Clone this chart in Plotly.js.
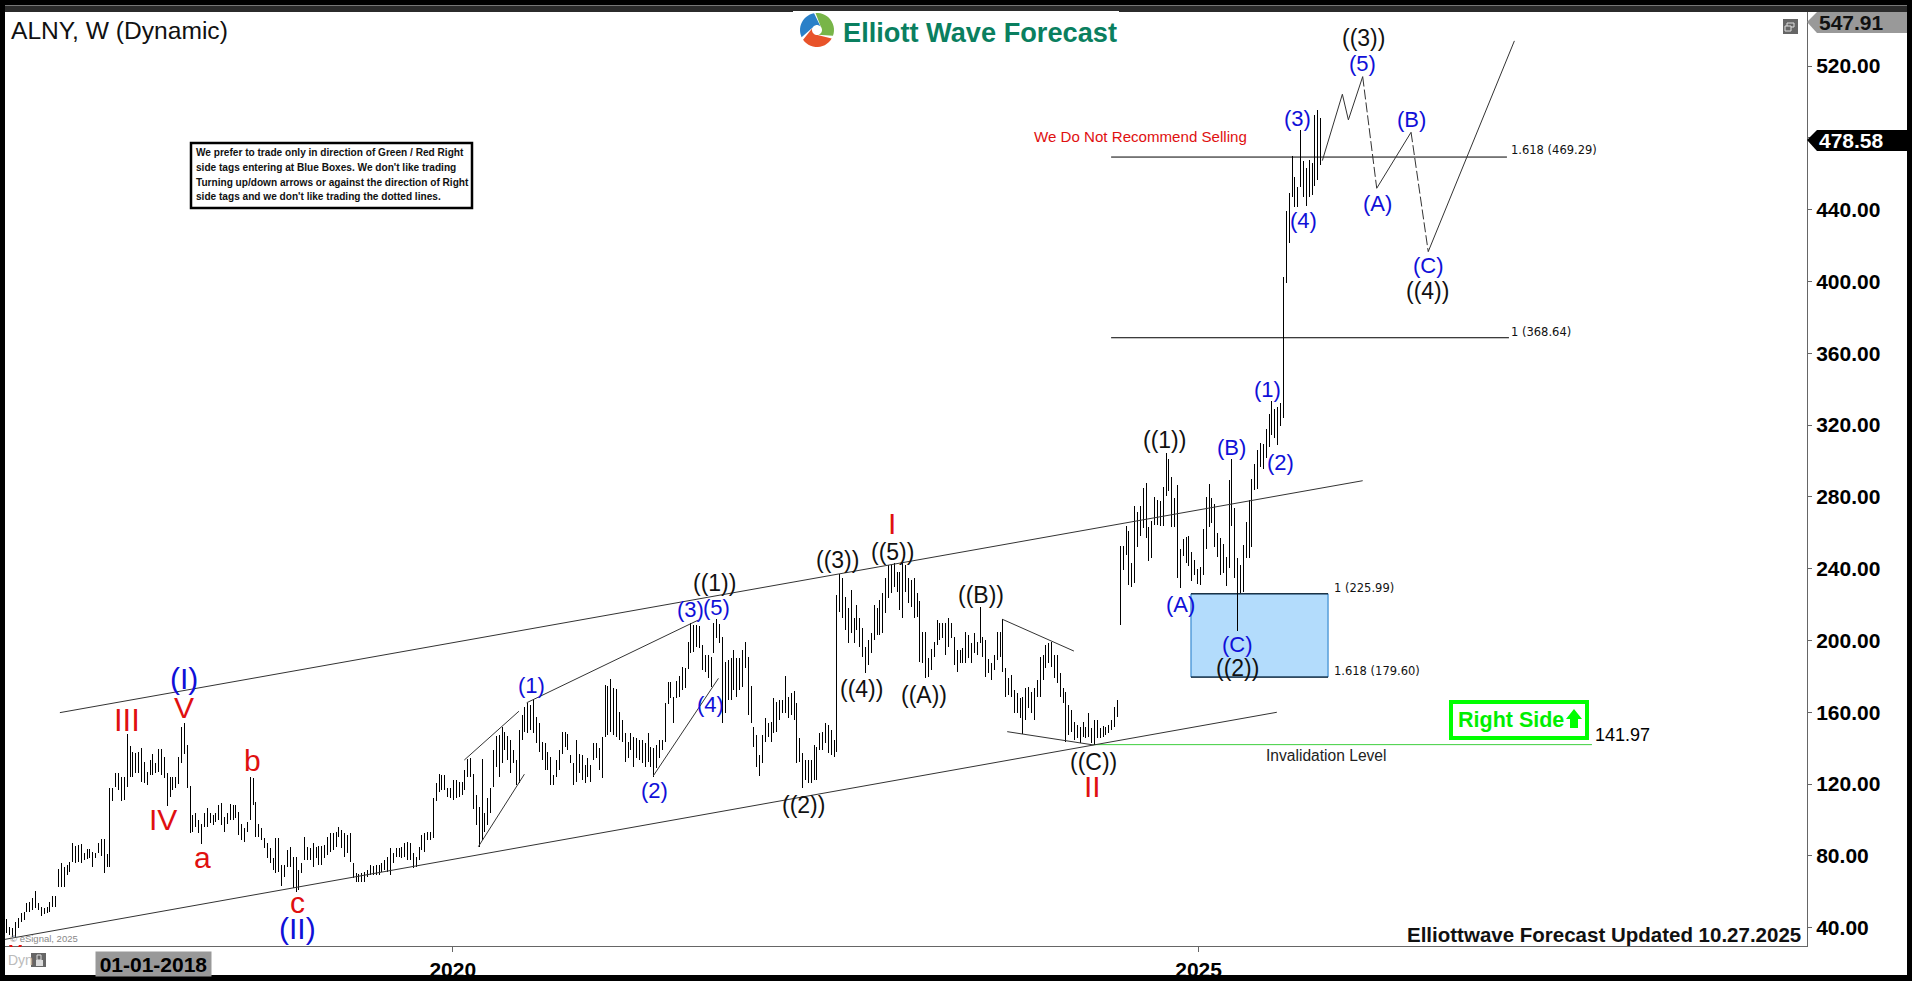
<!DOCTYPE html>
<html><head><meta charset="utf-8">
<script src="https://cdn.plot.ly/plotly-3.0.1.min.js"></script>
<style>html,body{margin:0;padding:0;background:#000;overflow:hidden}#chart{width:1912px;height:981px}
.scatterlayer .trace:first-child .js-line{shape-rendering:crispEdges}</style>
</head><body><div id="chart"></div>
<script>
// Weekly high / low of ALNY, first bar = week of 2017-01-02
const barHigh = [
45,40.6,39.7,43.4,45.3,48.4,49,53.6,54.5,56.4,60.5,54,51.8,50.8,51.8,54.5,57.7,57.7,72.6,76,74,75,76.8,87,85.5,86,86.7,81.5,83.7,83.7,82.4,81.8,87,89.3,89.3,81.1,118,118,126,126,124,124,148,141,138,137.5,138,140,132.5,127,133.5,136.8,131.6,139.4,
139.4,135.3,126.4,124,124,124,135.3,152,153.9,141.8,119,102.8,103.7,100,97.8,103.7,106.5,103.7,102.8,103.7,108.4,109.3,101.9,103.7,109,108.4,108.4,104.7,97.8,95.4,99,124,123.3,110.2,97.8,95.4,89.8,87,84.3,78.7,89.8,89.8,75,75,83.3,85.2,79.6,79.6,72,76,90.4,85.2,84.3,87,85.2,85.6,85.6,86,90.8,92.6,92.6,93.5,96,94.5,93,91.7,92.6,75.9,70.3,70,70.3,71.3,72.2,75,74.4,75,75,75.9,77.8,79.6,84.3,81.5,84.3,84.3,85.2,87,88,87,81.5,79.6,85.2,91.7,92.6,93.5,93.5,112,120.5,125.7,125,125,118,117.7,122.3,122.3,121.4,121.4,
128,133.8,134.4,125.6,114,107.4,134,103.7,112,117.6,139,146.8,147.3,152,149,146.8,144.5,139,133.4,150,158.5,163,165,164,167.2,157.5,153.8,143.6,143,138,135,125,133.4,139,149,149,148,136,131.5,144.5,137,136,130.6,134.3,130.6,142.7,142.7,139.9,146.4,175.2,174.6,178.3,173.3,172.8,160.3,155.7,148.3,143.6,148.3,146.4,145.5,144.5,144.5,142.7,148.3,140.8,139.9,141.8,144.5,144.5,165,177,177,168.7,177.6,180.2,185,184.4,199.3,209.5,208.6,208.6,208,197.5,191.9,191.9,191,209.5,211.8,209.2,202,188.2,189.1,190,194.7,190,190,194.7,199.3,191,174.6,152,147.3,136.2,147.3,156.6,153.8,154.8,167.8,165.9,166.8,166.8,180.2,168.7,170.6,172,165,145.5,137.1,133.4,133.4,133.4,141.8,140.8,148.3,149.2,153.8,152.9,150.1,144.5,225.3,237,234.6,224.4,218,228.1,212.3,219.8,212.3,206.8,196.5,200.3,204,219.8,217.9,222.5,226.3,234.6,242,242,243,238.3,238.3,243,242,234.6,233.7,234.6,226.3,
222,205,205,190,195,199.4,211.4,210,209.6,210,212.4,210,202,194.7,194.7,195.7,204.9,203,198.4,204,199.4,218.5,202,200.3,189.5,187.3,192,205,205,211.8,184.5,179,180.8,172.5,170.6,167.8,168.7,173.4,174.3,171.5,173.4,178,191,192,197.5,198.4,199.4,192,192,181.7,173.4,171.5,164,161.3,154.8,153,152,154.8,152,159.4,151,155.7,155.7,151,152.4,152,152.9,155.7,162.8,166.9,
252.6,252.6,263.7,261,243,274.9,271.7,274.9,284.7,287.5,263,266.7,279.7,278,277.9,285.7,304.2,301,290.9,279.2,286.6,250.7,256.3,257.8,258.2,249.4,244.8,239.6,240.7,261.9,279.7,287.1,279.2,276,259.7,256.9,254,246.3,289.4,301,273.6,245.7,242,253.2,266.2,278.2,289.7,298.3,306,309.8,309.4,317.8,326.1,333.6,328.7,329.9,332.4,402.6,
439.4,449,469.9,458.4,452.8,484.4,467.3,463,467.7,465.8,492.7,495.5,490.9
];
const barLow = [
37,36,35,35,39.7,43.4,44.3,49,49,49.9,50.8,50,46.6,47.7,48.4,49,51.8,51.8,62.5,62.9,62.9,69.4,71.3,76.8,75.9,76.8,75.9,77.8,78.1,78.7,74,78.7,81.5,80,70.7,74,74,110.8,118.6,116.7,110.8,111.2,118.6,124,124,126,126,121,120.5,119.6,125,125,126,127,
125,123.3,107.8,113,116.7,117.7,120,131.6,137,117.7,93,93.5,96.3,92.6,86.7,96.3,96.3,98.2,97.2,99,100,97.2,93.5,98,100,100,101,91.7,88.9,88,93.5,100,108.4,90.8,90.8,88.9,84.3,78.7,75.9,72.2,70.3,71.3,63.3,68.5,74,74,62,60,61,70.3,77.8,77.8,77.8,74,78.7,75,75,78.7,80.5,82.4,83.3,85.2,90.4,84.3,79.6,81.5,76.8,67.5,65.7,65.7,65.7,65.7,68.5,69.4,69.4,69.4,69.4,71.3,72.2,71.3,69.4,76,79.6,79.6,78.7,79.6,77.8,77.8,73,74,77.8,83.3,82.4,88.9,88.9,89.8,110.3,115.8,116.7,116.7,113,112,111,112,113,114,
116.7,124,124,106,97,85,88.8,93.5,97,103.7,118.6,129.7,124,131.6,139,133.4,126,131.6,119.5,120.4,144.5,149,148.6,150,148.3,142.7,138,133.4,127.8,127.8,119.5,119.5,124,127.8,137,140.8,139,131.6,119.5,121.3,126,122.3,120.4,124,121.3,133.4,134.3,127.8,123.2,146.4,147.3,149.2,147.3,146.4,144.5,143.6,132.5,134.3,139,129.7,134.3,133.4,131.5,129.7,132.5,129.7,124,128.8,134.3,139,143.6,164.6,167.8,153.8,167.8,168.7,172.4,173.3,184,192.8,193.7,196.5,195.6,183.5,182.6,178.9,174.3,192.8,201.2,198.4,154.2,159.4,166.8,166.8,172.4,168.7,172.4,174.3,184.5,158.5,153.8,140.8,129.7,124.5,131.5,143.6,146.4,143.6,148.3,149.2,155.7,159.4,159.4,156.6,158.5,155.7,131.5,132.5,117.6,122.3,120.4,120.4,122.3,122.3,139,139,142.7,137.1,136.2,135.3,138,216,212.3,205.8,198.4,204,198.4,205.8,196.5,191,181.7,186.3,192.8,200.3,203,203,204,215.1,223.5,226.3,230,227.2,217,212.3,227.2,220.7,218.8,212.3,213.3,
188,187.3,179,179.9,183.6,191,197.5,200.3,201.2,192,196.6,201.2,186.4,182.7,187.3,187.3,187.3,190,187.3,192.9,192,198.4,191,179.9,181.7,178,183.6,189,191,182.7,168.7,169.7,168.7,159.4,159.4,156.7,148,155.7,162.2,159.4,155.7,168.7,168.7,178,184.5,187.3,185.5,179,176.2,168.7,165,143.7,147.4,149.2,144.6,145.5,142.7,146.5,145.5,146.5,142.7,141.8,145.5,145.5,146.5,147.4,148.3,150,152,157.6,
208.6,239.2,247.6,230.9,230,231.8,252.2,258.2,262.4,256.9,244.4,245.7,264.3,264.3,263.7,263.7,280.5,283.4,263.4,263.4,234.6,229,247,243.3,241.5,233.3,236.4,231.4,230.9,236.4,250.7,263,265.2,252.2,246.3,236.4,237.7,230.3,240.2,263.7,234.6,205.4,226.2,227.2,245.7,245.7,251.9,283.8,284.5,296.8,295.5,301.4,307.6,314.4,312.6,308.9,319.6,323.7,
399,421.6,446.9,441.7,441.3,452.4,447.2,442,447.2,448.2,453.4,456.5,464.9
];
const yTicks = [40,80,120,160,200,240,280,320,360,400,440,480,520];
const xTickDates = ['2020-01-01','2024-12-29'];
const xTickLabels = ['2020','2025'];
const currentPrice = 478.58, topPrice = 547.91, invalidation = 141.97;
const fibLevels = [{t:'1.618 (469.29)',v:469.29},{t:'1 (368.64)',v:368.64},{t:'1 (225.99)',v:225.99},{t:'1.618 (179.60)',v:179.60}];
const infoLines = ['We prefer to trade only in direction of Green / Red Right',
  'side tags entering at Blue Boxes. We don\'t like trading',
  'Turning up/down arrows or against the direction of Right',
  'side tags and we don\'t like trading the dotted lines.'];

// Analyst's drawn lines: [week, price, week, price, ...]
const channelUpper = [19.0,159.8,474.2,289.0];
const channelLower = [-0.2,33.5,444.2,160.0];
const wedgeLines = [
 [160.3,133.4,179.4,160.6],[165.2,85.1,181.3,125.5],[182.1,165.3,242.1,211.4],[226.3,124.5,249.1,178.9],
 [348.3,211.8,373.3,194.1],[350,149.2,380.1,141.8]];
const forecastSolid = [[460.1,467.3,467.1,504.3,469.2,490,474.2,514.1],[479.1,451.9,491.1,483.1],[497.1,416.6,527.2,534]];
const forecastDashed = [[474.2,514.1,479.1,451.9],[491.1,483.1,497.1,416.6]];

const RED='#e01010', BLUE='#1010d8', BLK='#111';
const waveLabels = [
 ['(I)',62.5,178.6,BLUE,30],['V',62.5,162.6,RED,30],['III',42.6,155.3,RED,31],['IV',54.9,100.4,RED,30],
 ['a',68.8,79.2,RED,30],['b',86.2,132.9,RED,30],['c',102.1,54,RED,30],['(II)',102.1,39.6,BLUE,30],
 ['(1)',183.9,174.7,BLUE,22],['((1))',247.6,231.9,BLK,23],['(3)',239.2,217.4,BLUE,22],['(5)',248.5,218.5,BLUE,22],
 ['(2)',226.6,116.7,BLUE,22],['(4)',246.4,164.5,BLUE,22],['((2))',278.8,108.2,BLK,23],['((3))',290.6,244.8,BLK,23],
 ['((4))',299.2,173,BLK,23],['I',309.6,265.3,RED,30],['((5))',310,249.5,BLK,23],['((A))',321,169.6,BLK,23],
 ['((B))',340.7,225.3,BLK,23],['((C))',380.1,132.5,BLK,23],['II',379.7,118.7,RED,30],['(A)',410.4,220.3,BLUE,22],
 ['(C)',430.4,198,BLUE,22],['((2))',430.4,184.5,BLK,23],['((1))',405.1,311.7,BLK,23],['(B)',428.4,307.4,BLUE,22],
 ['(1)',441,340,BLUE,22],['(2)',445.4,299.3,BLUE,22],['((3))',474.6,535.5,BLK,23],['(5)',474.2,521.5,BLUE,22],
 ['(3)',451.3,490.9,BLUE,22],['(4)',453.6,433.7,BLUE,22],['(A)',479.3,443.2,BLUE,22],['(B)',491.1,490,BLUE,22],
 ['(C)',497.1,408.8,BLUE,22],['((4))',496.9,394.7,BLK,23]];

const FONT='"Liberation Sans", Arial, sans-serif';
const T0=Date.UTC(2017,0,2), WK=7*864e5;
const D=w=>T0+w*WK;
// paper-fraction helpers for the chart frame and furniture (plot area spans 5..1807, 12..946)
const fx=p=>(p-5)/1802, fy=p=>(946-p)/934;

// Bars
const bx=[],by=[];
barHigh.forEach((h,i)=>{bx.push(D(i+0.5),D(i+0.5),null);by.push(h,barLow[i],null);});
const traces=[{type:'scatter',mode:'lines',x:bx,y:by,connectgaps:false,hoverinfo:'skip',showlegend:false,
  line:{color:'#000',width:1}}];
const polyline=(pts,color,dash,width)=>{const x=[],y=[];for(let i=0;i<pts.length;i+=2){x.push(D(pts[i]));y.push(pts[i+1]);}
  return {type:'scatter',mode:'lines',x,y,hoverinfo:'skip',showlegend:false,line:{color,width:width||1,dash:dash||'solid'}};};
[channelUpper,channelLower,...wedgeLines,...forecastSolid].forEach(p=>traces.push(polyline(p,'#333')));
forecastDashed.forEach(p=>traces.push(polyline(p,'#333','10px,3px')));

// Shapes
const shapes=[];
const rectPx=(x0,y0,x1,y1,fill,line,lw)=>shapes.push({type:'rect',xref:'paper',yref:'paper',x0:fx(x0),x1:fx(x1),y0:fy(y0),y1:fy(y1),
  fillcolor:fill||'rgba(0,0,0,0)',line:{width:lw||0,color:line||'rgba(0,0,0,0)'},layer:'above'});
const pathPx=(pts,fill,line,lw)=>shapes.push({type:'path',xref:'paper',yref:'paper',layer:'above',
  path:'M'+pts.map(p=>fx(p[0])+','+fy(p[1])).join(' L')+' Z',fillcolor:fill,line:{width:lw||0,color:line||'rgba(0,0,0,0)'}});
// blue box and levels
shapes.push({type:'rect',xref:'x',yref:'y',x0:D(414.2),x1:D(462.1),y0:179.60,y1:225.99,fillcolor:'#b3dcfc',line:{color:'#1a78c8',width:1},layer:'below'});
[[414.2,462.1,225.99],[414.2,462.1,179.60],[386.3,524.6,469.29],[386.3,525.3,368.64]].forEach(a=>
  shapes.push({type:'line',xref:'x',yref:'y',x0:D(a[0]),x1:D(a[1]),y0:a[2],y1:a[2],line:{color:'#000',width:1},layer:'below'}));
shapes.push({type:'line',xref:'x',yref:'y',x0:D(380),x1:D(554.3),y0:invalidation,y1:invalidation,line:{color:'#3ecf3e',width:1},layer:'below'});
// frame
rectPx(0,0,1912,5,'#000'); rectPx(0,5,1912,12,'#2b2b2b'); rectPx(0,5,1912,6,'#777');
rectPx(0,0,5,981,'#000'); rectPx(1907,0,1912,981,'#000'); rectPx(0,975,1912,981,'#000');
// logo
rectPx(793,11,1119,50,'#fff');
const wedge=(a0,a1,col)=>{const pts=[],cx=817,cy=30,ro=17,ri=5,n=14;
  for(let i=0;i<=n;i++){const a=(a0+(a1-a0)*i/n)*Math.PI/180;pts.push([cx+ro*Math.cos(a),cy+ro*Math.sin(a)]);}
  for(let i=n;i>=0;i--){const a=(a0+55+(a1-a0)*i/n)*Math.PI/180;pts.push([cx+ri*Math.cos(a),cy+ri*Math.sin(a)]);}
  pathPx(pts,col);};
wedge(-95,20,'#78b548'); wedge(30,145,'#e8532a'); wedge(155,260,'#2a80c8');
// info box
rectPx(191,143,472,208,'#fff','#000',2.5);
// right side box + arrow
rectPx(1451,702,1587,738,'rgba(0,0,0,0)','#00ff00',4);
pathPx([[1574,709],[1582,719],[1578,719],[1578,728],[1570,728],[1570,719],[1566,719]],'#00ff00');
// price tags
pathPx([[1807,22],[1817,12],[1907,12],[1907,33],[1817,33]],'#999');
pathPx([[1807,140],[1817,130],[1907,130],[1907,151],[1817,151]],'#000');
// window icon
rectPx(1783,19,1798,34,'#666');
rectPx(1787,23,1794,27,'rgba(0,0,0,0)','#ddd',1); rectPx(1785,26,1791,31,'#666','#ddd',1);
// lock icon, clipped label
rectPx(31,953,46,967,'#666'); rectPx(36,960,43,966,'#ddd');
rectPx(37,955,41,960,'rgba(0,0,0,0)','#ddd',1);
pathPx([[9,945],[12,945],[13,947],[10,947]],RED); pathPx([[19,945],[22,945],[21,947],[18,947]],RED);

// Annotations
const ann=[];
waveLabels.forEach(l=>ann.push({xref:'x',yref:'y',x:D(l[1]),y:l[2],text:l[0],showarrow:false,xanchor:'center',yanchor:'middle',
  font:{family:FONT,size:l[4],color:l[3]}}));
const dataText=(text,w,p,size,color,anchor,extra)=>ann.push({xref:'x',yref:'y',x:D(w),y:p,text,showarrow:false,
  xanchor:anchor||'left',yanchor:'middle',font:Object.assign({family:FONT,size,color:color||'#000'},extra||{})});
const pxText=(text,x,y,size,color,anchor,extra)=>ann.push({xref:'paper',yref:'paper',x:fx(x),y:fy(y),text,showarrow:false,
  xanchor:anchor||'left',yanchor:'middle',font:Object.assign({family:FONT,size,color:color||'#000'},extra||{})});
const FIB='"DejaVu Sans", sans-serif';
dataText(fibLevels[0].t,525.2,473.3,11.5,'#111','left',{family:FIB});
dataText(fibLevels[1].t,525.2,372,11.5,'#111','left',{family:FIB});
dataText(fibLevels[2].t,463.4,229.4,11.5,'#111','left',{family:FIB});
dataText(fibLevels[3].t,463.4,183.2,11.5,'#111','left',{family:FIB});
dataText(invalidation.toFixed(2),554.6,147.4,18);
dataText('Invalidation Level',461.4,135.8,15.6,'#222','center');
dataText('We Do Not Recommend Selling',396.7,481,15.1,'#e01010','center');
pxText('ALNY, W (Dynamic)',9,30,24.6,'#111');
pxText('Elliott Wave Forecast',841,32,27.2,'#0a7f5f','left',{weight:700});
infoLines.forEach((t,i)=>pxText(t,194,[152.7,167.3,182,196][i],10.1,'#111','left',{weight:700}));
pxText('Right Side',1456,720,21.5,'#00ee00','left',{weight:700});
pxText('Elliottwave Forecast Updated 10.27.2025',1803,934,20.5,'#111','right',{weight:700});
pxText(topPrice.toFixed(2),1817,22.5,21,'#111','left',{weight:700});
pxText(currentPrice.toFixed(2),1817,140.5,21,'#fff','left',{weight:700});
pxText('© eSignal, 2025',8,938,9.5,'#888');
pxText('Dyn',6,960,14,'#bbb');
ann.push({xref:'paper',yref:'paper',x:fx(153.5),y:fy(951),yanchor:'top',xanchor:'center',text:'01-01-2018',showarrow:false,
  width:115,height:24,borderpad:0,bgcolor:'#999',font:{family:FONT,size:21,color:'#000',weight:700}});

const layout={width:1912,height:981,margin:{l:5,r:105,t:12,b:35,pad:0},paper_bgcolor:'#fff',plot_bgcolor:'#fff',showlegend:false,
  xaxis:{type:'date',range:[D(-0.175),D(629.44)],tickmode:'array',tickvals:xTickDates,ticktext:xTickLabels,
    tickfont:{family:FONT,size:21,color:'#000',weight:700},ticks:'outside',ticklen:5,tickcolor:'#666',
    showgrid:false,zeroline:false,showline:true,linecolor:'#666',linewidth:1,fixedrange:true},
  yaxis:{side:'right',range:[29.8,550.1],tickmode:'array',tickvals:yTicks,tickformat:'.2f',
    tickfont:{family:FONT,size:21,color:'#000',weight:700},ticks:'outside',ticklen:4,tickcolor:'#666',
    showgrid:false,zeroline:false,showline:true,linecolor:'#666',linewidth:1,fixedrange:true},
  shapes,annotations:ann};
Plotly.newPlot('chart',traces,layout,{displayModeBar:false,staticPlot:true});
</script></body></html>
